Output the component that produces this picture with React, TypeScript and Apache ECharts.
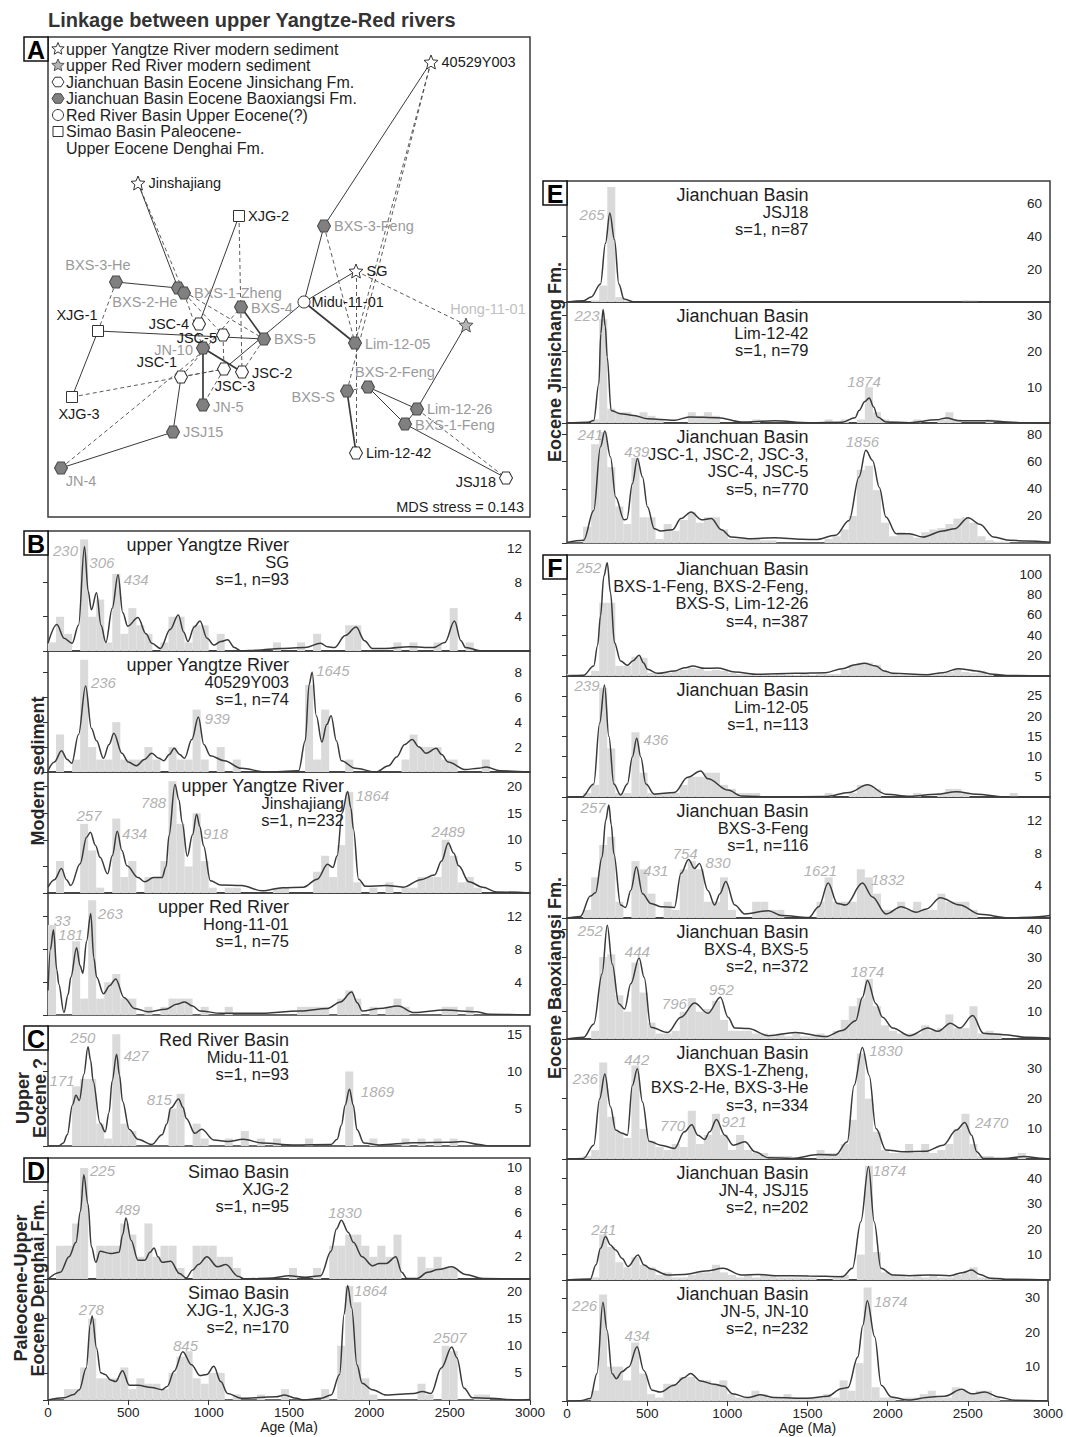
import React, { useEffect, useRef } from 'react';
import * as echarts from 'echarts';

const FONT = '"Liberation Sans", Arial, Helvetica, sans-serif';
const AGE_MIN = 0;
const AGE_MAX = 3000;
const AGE_TICK_STEP = 500;
const BIN_WIDTH = 50;

// ---------------- Histogram counts (50 Ma bins, 0-3000 Ma) ----------------
const B1_HIST = [1,4,2,0,13,4,6,1,9,2, 5,3,2,0,1,4,4,1,3,3, 0,2,0,0,0,0,0,0,1,0, 0,1,0,2,0,0,0,3,3,0, 0,0,0,1,0,1,0,0,1,0, 5,0,1,0,0,0,0,0,0,0];
const B2_HIST = [0,3,0,1,9,2,1,1,4,1, 1,1,2,1,0,2,1,1,5,1, 0,2,0,1,0,0,0,0,0,0, 0,0,7,1,5,0,0,1,0,0, 0,0,0,0,1,3,2,2,2,1, 1,0,0,0,1,0,0,0,0,0];
const B3_HIST = [0,6,0,0,13,8,1,0,14,3, 6,0,3,3,6,21,13,5,15,6, 1,0,1,1,0,0,0,0,1,1, 0,0,0,4,7,3,9,19,2,0, 1,0,2,0,1,1,3,3,3,10, 7,2,3,1,0,0,0,0,0,0];
const B4_HIST = [11,0,0,9,2,14,2,4,5,2, 2,0,1,0,1,2,2,2,0,1, 0,0,1,0,0,0,0,0,0,0, 0,1,1,1,1,0,2,3,2,0, 1,0,1,2,1,0,0,0,0,1, 1,0,1,0,0,0,0,0,0,0];
const C_HIST = [0,0,0,8,9,9,3,1,15,3, 2,0,0,0,0,5,7,0,3,1, 0,0,1,0,2,0,1,0,1,0, 0,0,1,0,0,0,0,10,0,0, 1,0,0,0,1,0,1,0,1,0, 1,0,0,0,0,0,0,0,0,0];
const D1_HIST = [0,3,3,5,10,0,3,3,3,5, 4,2,5,2,3,3,1,0,3,3, 3,2,2,1,0,0,0,0,0,0, 1,0,0,1,0,3,3,4,4,3, 2,3,2,4,0,0,2,1,2,1, 1,0,0,0,0,0,0,0,0,0];
const D2_HIST = [0,0,2,2,6,15,4,4,4,6, 2,4,3,3,2,5,8,9,4,3, 5,5,0,1,0,0,1,0,0,2, 0,0,0,0,2,0,10,21,18,4, 1,0,0,0,0,0,3,1,0,10, 9,0,0,1,1,0,0,0,0,0];
const E1_HIST = [0,0,0,1,10,70,3,1,0,0, 0,0,0,0,0,0,0,0,0,0, 0,0,0,0,0,0,0,0,1,0, 0,0,0,0,0,0,0,0,0,0, 0,0,0,0,0,0,0,0,0,1, 1,0,0,0,0,0,0,0,0,0];
const E2_HIST = [0,0,0,1,29,4,3,3,2,3, 2,1,0,0,0,3,2,3,2,0, 0,0,0,1,0,0,0,0,0,0, 0,0,1,0,1,0,1,10,3,1, 0,0,0,1,0,0,1,3,1,0, 0,0,1,0,0,0,0,0,0,0];
const E3_HIST = [0,0,12,73,82,56,27,14,63,19, 19,3,14,9,17,23,15,19,19,10, 3,3,3,3,2,2,0,0,0,0, 0,0,3,5,10,20,54,57,39,15, 5,8,7,4,8,10,11,14,18,19, 15,5,2,1,1,0,0,0,0,0];
const F1_HIST = [2,1,1,5,72,72,10,10,19,18, 3,3,3,5,6,8,7,5,6,5, 3,2,2,1,2,1,2,1,1,2, 1,2,2,2,6,11,13,13,11,5, 2,1,1,1,1,1,2,4,7,4, 3,5,1,0,0,0,0,0,0,0];
const F2_HIST = [0,0,1,3,27,12,1,1,16,6, 1,1,1,1,3,5,5,6,6,3, 2,1,1,1,0,0,0,0,0,0, 0,0,1,0,0,1,3,3,2,0, 0,0,0,1,0,0,1,2,2,1, 0,0,0,0,0,1,0,0,0,0];
const F3_HIST = [0,0,1,5,9,10,2,0,7,6, 3,0,2,1,6,7,6,2,2,5, 1,0,0,2,2,1,1,0,0,0, 0,2,5,2,2,2,6,5,3,1, 1,2,1,2,1,1,3,2,2,2, 1,0,0,0,0,0,0,0,0,0];
const F4_HIST = [0,0,0,3,30,31,16,10,28,17, 6,2,2,3,10,15,10,11,14,7, 3,3,3,2,2,1,2,1,2,1, 1,2,1,3,7,12,15,22,12,5, 3,2,2,2,5,3,4,9,4,4, 12,2,3,2,0,0,0,0,0,0];
const F5_HIST = [0,0,1,3,32,14,9,7,31,10, 6,4,3,5,4,16,5,8,15,8, 3,8,3,2,2,1,1,1,0,0, 0,3,2,2,5,13,35,20,9,3, 2,2,5,2,5,2,3,5,10,15, 5,1,1,0,0,0,2,0,0,0];
const F6_HIST = [0,0,0,1,18,13,7,5,9,6, 5,2,3,1,1,2,3,3,6,3, 2,1,2,1,2,2,1,1,1,1, 1,0,0,1,2,0,10,45,11,3, 2,2,1,2,1,2,1,1,2,3, 5,1,1,1,0,0,0,0,0,0];
const F7_HIST = [0,0,0,3,31,10,10,6,17,8, 2,1,5,5,7,7,6,6,5,6, 2,1,1,3,2,1,1,2,1,1, 1,1,2,1,6,3,11,33,4,1, 1,0,1,1,2,3,1,1,4,3, 2,3,3,1,0,0,0,0,0,0];

// ---------------- KDE curves [age (Ma), density] ----------------
const B1_KDE = [[0,0.9],[55,3.1],[100,1.5],[150,0.9],[190,3],[227,12.2],[250,7],[270,4.8],[302,6.8],[330,3],[360,1.0],[400,5],[436,8.9],[465,4.5],[496,2.9],[560,3.9],[610,2],[646,0.9],[700,0.3],[760,2.5],[811,4.2],[845,2.2],[871,1.1],[910,2.8],[946,3.5],[990,1.5],[1032,0.7],[1075,1.1],[1118,1.3],[1160,0.4],[1204,0],[1300,0.1],[1450,0.3],[1600,0.4],[1697,0.9],[1740,0.5],[1783,0.4],[1850,1.8],[1918,2.8],[1970,1.2],[2019,0.3],[2100,0.3],[2250,0.5],[2400,0.4],[2470,1.0],[2530,3.5],[2570,1.2],[2599,0.4],[2700,0],[3000,0]];
const B2_KDE = [[0,0.1],[40,0.8],[84,1.7],[120,1.0],[148,0.7],[190,3],[234,6.9],[270,3.5],[302,2.5],[345,1.1],[380,2.2],[410,3.1],[460,1.5],[500,0.8],[549,0.5],[600,1.0],[646,1.5],[690,1.1],[721,0.9],[755,1.4],[785,1.9],[820,1.4],[850,1.1],[895,2.6],[936,4.4],[970,2.2],[1011,1.3],[1097,0.9],[1204,0.3],[1354,0],[1560,0.1],[1601,2.5],[1625,7],[1644,8.0],[1670,4.5],[1704,2.4],[1735,3.8],[1762,4.5],[1795,2.5],[1826,0.9],[1912,0.3],[2041,0],[2120,0.5],[2170,1.2],[2220,2.2],[2266,2.6],[2310,2.0],[2352,1.5],[2416,1.9],[2450,1.4],[2491,0.8],[2599,0.2],[2680,0.3],[2727,0.4],[2813,0.1],[3000,0]];
const B3_KDE = [[0,1.1],[40,2.5],[84,4.6],[115,2.5],[142,1.4],[200,5.5],[240,10.5],[264,11.4],[295,9],[324,6.7],[371,3.6],[400,7],[431,11.6],[460,8],[491,5.1],[560,2.9],[603,2.1],[657,2.9],[710,2.9],[735,5],[753,10.75],[790,20.4],[815,17.5],[835,13.25],[867,6.9],[900,11],[925,14.8],[945,12.5],[968,8.9],[1011,2.3],[1075,1.5],[1204,1.4],[1333,0.4],[1461,1.0],[1590,1.1],[1676,2.6],[1740,5.4],[1773,4.8],[1800,7],[1830,15],[1865,19.1],[1885,16],[1901,12],[1933,2.6],[1976,1.25],[2105,1.4],[2212,1.1],[2320,2.5],[2406,3.4],[2450,6],[2491,9.4],[2525,7.5],[2556,5.1],[2620,2.1],[2706,1.1],[2792,0.2],[3000,0]];
const B4_KDE = [[0,3.0],[15,8],[34,10.4],[55,5.5],[67,3.8],[99,0.3],[125,2.5],[142,4.6],[178,8.2],[200,6],[217,5.1],[240,9],[266,12.4],[285,7],[303,4.6],[345,2.6],[385,3.6],[421,4.4],[474,2.1],[539,0.8],[624,0.4],[732,0.7],[800,1.3],[850,1.6],[900,1.1],[946,0.5],[1075,0.2],[1300,0.2],[1569,0.5],[1740,0.8],[1820,1.6],[1890,2.8],[1925,1.5],[1955,0.5],[2062,0.8],[2180,1.1],[2277,0.3],[2470,0.6],[2663,0.4],[2749,0.1],[3000,0]];
const C_KDE = [[0,0],[67,0],[95,0.4],[120,1.5],[152,5.5],[174,6.8],[195,6.1],[223,9.6],[249,13.3],[265,11.5],[281,8.7],[324,3.1],[356,1.9],[380,4.5],[399,8.7],[427,12.3],[445,9.5],[464,6],[506,2.2],[560,0.9],[646,0.2],[710,1.5],[740,3],[764,5.1],[813,6.3],[840,5.2],[861,3.7],[914,1.7],[957,2.25],[1032,0.8],[1118,0.6],[1215,0.9],[1333,0.4],[1526,0.15],[1762,0.2],[1800,0.9],[1826,2.8],[1850,5.5],[1876,7.6],[1900,5.5],[1923,2.2],[1966,0.4],[2062,0.15],[2277,0.45],[2491,0.5],[2577,0.6],[2684,0.2],[2740,0],[3000,0]];
const D1_KDE = [[0,0],[77,0.6],[131,2.0],[174,3.3],[202,6.1],[223,9.4],[249,6.75],[270,2.9],[298,1.5],[324,2.5],[388,2.3],[442,2.4],[465,4],[485,5.5],[517,3.5],[560,1.7],[603,1.7],[635,2.4],[660,2.8],[685,2],[710,1.5],[764,1.6],[818,0.5],[861,0.1],[900,0.8],[936,1.3],[989,2.0],[1054,1.1],[1107,1.3],[1182,0.25],[1225,0],[1400,0.1],[1500,0.3],[1600,0.15],[1697,0.3],[1762,2.5],[1795,4.5],[1826,5.3],[1869,4.2],[1901,3.3],[1955,2.0],[2019,1.2],[2062,1.4],[2105,1.4],[2165,2.0],[2202,0.6],[2234,0.05],[2298,0.05],[2363,0.6],[2427,0.85],[2513,1.1],[2599,0.4],[2706,0.05],[3000,0]];
const D2_KDE = [[0,0],[100,0.4],[160,1.0],[195,1.9],[238,5.9],[264,14],[275,15.5],[302,9.6],[328,5],[356,4.7],[388,3.7],[421,3.4],[464,5.4],[506,2.7],[560,2.7],[646,2.3],[710,1.9],[742,2.5],[785,5.3],[839,8.9],[893,6.5],[946,4.5],[989,4.7],[1032,6.2],[1075,3.4],[1118,1.2],[1204,0.3],[1418,0.6],[1472,0.9],[1547,0.3],[1590,0],[1697,0.3],[1762,0.9],[1815,4.7],[1843,15.8],[1865,21.1],[1890,17],[1923,6.5],[1955,3.1],[2019,1.9],[2105,0.9],[2277,1.2],[2330,1.55],[2384,1.2],[2448,5.9],[2513,9.75],[2545,7.8],[2588,2.2],[2642,0.4],[2749,0.3],[2921,0],[3000,0.1]];
const E1_KDE = [[0,0],[103,0.8],[150,3],[208,11],[239,35.7],[266,54.2],[295,37.8],[322,11],[354,1.8],[416,0],[3000,0]];
const E2_KDE = [[0,0],[130,0.2],[166,0.7],[198,11],[210,25],[224,31.7],[238,27],[250,18.4],[274,3.5],[333,2.6],[416,2.1],[500,1.2],[667,0.75],[760,1.7],[938,1.5],[1084,0.3],[1291,0.6],[1500,0.1],[1710,0.2],[1790,1.5],[1814,3.5],[1850,6],[1877,7.0],[1905,4.5],[1929,1.7],[1981,0.3],[2127,0.1],[2295,0.9],[2356,1.4],[2440,0.6],[2607,0.6],[2816,0.1],[3000,0]];
const E3_KDE = [[0,0.3],[103,2],[166,24],[208,71],[235,82.7],[270,63.5],[302,34],[354,17.2],[372,17.5],[406,43.8],[437,62.3],[469,48.7],[500,26.6],[542,10.6],[583,8.9],[656,9.8],[708,18],[771,22.9],[834,17.2],[896,18],[959,9.8],[1021,4.4],[1126,3.2],[1293,3.9],[1459,2.7],[1543,2.5],[1668,5.7],[1752,16.7],[1814,48.7],[1856,68.4],[1898,61],[1940,41],[1981,19.2],[2044,6.9],[2127,6.9],[2210,4.4],[2335,8.9],[2408,10.6],[2492,18.7],[2565,13.8],[2649,4.4],[2753,2],[2857,1.5],[3000,0.5]];
const F1_KDE = [[0,0],[103,0.7],[166,9.8],[190,30],[208,59],[229,98],[250,111.5],[270,82],[295,32.8],[333,14.8],[375,10.5],[410,15],[448,20.3],[475,13],[500,6.6],[562,2.6],[667,4.9],[730,8],[781,9.8],[854,7.5],[938,7.9],[1042,3.9],[1188,1.6],[1418,2.6],[1606,3.3],[1710,7.2],[1790,11],[1846,12.5],[1918,9.8],[1970,5],[2023,2.6],[2232,1.3],[2335,3.3],[2430,7.2],[2545,4.9],[2649,1.6],[2753,0.5],[3000,0]];
const F2_KDE = [[0,0],[93,0],[166,3.2],[203,18.3],[233,27.7],[260,15],[291,3.2],[333,0.5],[375,3.2],[406,9.9],[433,14.5],[458,9.9],[490,3.2],[542,0.7],[667,1.1],[750,4.9],[830,6.4],[875,4.5],[1000,1.7],[1084,0.25],[1293,0],[1606,0.1],[1752,1.1],[1866,3.0],[1981,0.7],[2127,0.2],[2294,0.7],[2419,1.3],[2545,0.7],[2712,0],[3000,0]];
const F3_KDE = [[0,0],[83,0.2],[145,2.7],[177,3.1],[218,7.5],[240,12],[260,13.9],[275,11.5],[291,7.9],[333,1.6],[364,1.3],[396,3.4],[431,6.3],[469,3.0],[521,1.8],[583,1.4],[667,1.3],[708,5.5],[755,7.2],[792,6.1],[823,6.7],[875,3.4],[917,1.6],[950,3],[986,4.5],[1042,1.6],[1104,0.5],[1250,0.9],[1334,0.3],[1501,0.05],[1564,1.4],[1622,4.3],[1679,1.8],[1731,1.6],[1835,4.3],[1897,2.6],[1981,0.5],[2075,1.4],[2169,0.7],[2232,1.1],[2319,2.5],[2440,1.6],[2565,0.45],[2753,0],[2878,0.1],[3000,0.3]];
const F4_KDE = [[0,0],[103,0.6],[166,5.5],[218,23.9],[250,41.6],[281,27.5],[322,12.9],[358,11],[396,20.2],[448,29.7],[479,22.6],[521,4.3],[625,2.4],[708,8],[792,13.2],[875,9.4],[953,15.3],[1000,8],[1042,4],[1126,3.8],[1251,1.2],[1418,2.4],[1606,0.9],[1710,3.1],[1793,6.7],[1835,15.3],[1866,21.4],[1919,12.9],[1960,8],[2023,4],[2127,1.2],[2242,4],[2305,2.8],[2382,5.75],[2440,4],[2520,8.6],[2586,2.1],[2649,1.8],[2712,1.6],[2857,0.6],[3000,0.4]];
const F5_KDE = [[0,0],[103,0.2],[166,4.6],[203,20],[235,28.2],[270,17.3],[302,9.6],[343,8.5],[375,7.9],[406,24.4],[437,29.9],[469,18.9],[510,5.9],[583,4.6],[667,3.5],[729,9],[775,11.4],[813,7.9],[855,6.5],[886,9],[928,13.1],[980,7.9],[1032,4.6],[1105,5.7],[1168,2.4],[1251,0.4],[1397,0.2],[1564,1.5],[1668,1.3],[1741,5.7],[1783,24.4],[1835,37],[1877,27.7],[1919,10.1],[1981,3],[2085,2.4],[2231,2.6],[2336,4.6],[2419,9.6],[2471,12.1],[2513,7.9],[2545,2.4],[2586,0.2],[2712,0.2],[2837,0.8],[2963,0.2],[3000,0]];
const F6_KDE = [[0,0],[145,0.4],[180,6],[208,12.5],[239,17.1],[270,13.8],[302,11.8],[343,8.5],[379,5.3],[441,9.9],[479,5.9],[521,4.3],[625,2],[729,2.2],[860,3.5],[969,4.6],[1084,2],[1188,2.2],[1293,1.7],[1501,1.6],[1710,1.3],[1773,4.6],[1825,23],[1873,44.7],[1908,23],[1950,4.6],[2023,2],[2127,1.7],[2252,2],[2378,1.7],[2461,3.0],[2513,3.9],[2565,2.2],[2628,0.7],[2753,0.3],[3000,0]];
const F7_KDE = [[0,0],[83,0.1],[145,0.7],[187,8],[224,28.7],[250,20.6],[281,8],[308,6.5],[343,8.5],[385,9.9],[437,15.8],[479,8.9],[531,3.1],[583,2.6],[667,4.6],[729,6.8],[771,8],[834,5.8],[917,4.9],[980,4.3],[1032,2.1],[1126,1],[1209,1.8],[1293,1],[1501,0.8],[1627,1.4],[1710,3.6],[1752,3.9],[1814,12.8],[1845,22],[1873,29.2],[1919,18.7],[1960,4.6],[2023,1.2],[2127,0.3],[2273,1.2],[2357,1.4],[2461,3.4],[2524,2.1],[2607,2.6],[2690,1.2],[2795,0.2],[2962,0.1],[3000,0]];

// ---------------- Peak age labels (text) ----------------
const B1_PEAKS = ['230','306','434'];
const B2_PEAKS = ['236','939','1645'];
const B3_PEAKS = ['257','434','788','918','1864','2489'];
const B4_PEAKS = ['33','181','263'];
const C_PEAKS = ['171','250','427','815','1869'];
const D1_PEAKS = ['225','489','1830'];
const D2_PEAKS = ['278','845','1864','2507'];
const E1_PEAKS = ['265'];
const E2_PEAKS = ['223','1874'];
const E3_PEAKS = ['241','439','1856'];
const F1_PEAKS = ['252'];
const F2_PEAKS = ['239','436'];
const F3_PEAKS = ['257','431','754','830','1621','1832'];
const F4_PEAKS = ['252','444','796','952','1874'];
const F5_PEAKS = ['236','442','770','921','1830','2470'];
const F6_PEAKS = ['241','1874'];
const F7_PEAKS = ['226','434','1874'];

// where each peak label sits, in [age, density] units (layout)
const PEAK_LABEL_AT = {
  B1: [[109,11.7],[335,10.3],[549,8.3]],
  B2: [[345,7.2],[1054,4.3],[1773,8.1]],
  B3: [[255,14.5],[539,11.25],[657,17.1],[1043,11.1],[2019,18.4],[2491,11.5]],
  B4: [[88,11.5],[142,9.8],[388,12.4]],
  C: [[88,8.8],[217,14.5],[549,12.2],[693,6.2],[2051,7.25]],
  D1: [[339,9.8],[496,6.3],[1848,6.0]],
  D2: [[270,16.6],[856,10.1],[2009,20.2],[2502,11.5]],
  E1: [[156,53.2]],
  E2: [[124,30.1],[1845,11.5]],
  E3: [[145,80.2],[433,67.9],[1835,74.6]],
  F1: [[135,106.6]],
  F2: [[124,27.6],[552,14.3]],
  F3: [[162,13.6],[552,5.9],[734,8.0],[938,6.8],[1574,5.8],[1992,4.7]],
  F4: [[145,39.8],[437,32.1],[667,13.1],[959,18.1],[1866,24.7]],
  F5: [[114,26.6],[433,33.0],[656,11.0],[1038,12.5],[1981,35.9],[2638,12.1]],
  F6: [[229,20.1],[2002,43.1]],
  F7: [[110,27.7],[437,19],[2019,28.9]],
};

// ---------------- Sample titles ----------------
const TITLES = {
  B1: ['upper Yangtze River','SG','s=1, n=93'],
  B2: ['upper Yangtze River','40529Y003','s=1, n=74'],
  B3: ['upper Yangtze River','Jinshajiang','s=1, n=232'],
  B4: ['upper Red River','Hong-11-01','s=1, n=75'],
  C: ['Red River Basin','Midu-11-01','s=1, n=93'],
  D1: ['Simao Basin','XJG-2','s=1, n=95'],
  D2: ['Simao Basin','XJG-1, XJG-3','s=2, n=170'],
  E1: ['Jianchuan Basin','JSJ18','s=1, n=87'],
  E2: ['Jianchuan Basin','Lim-12-42','s=1, n=79'],
  E3: ['Jianchuan Basin','JSC-1, JSC-2, JSC-3,','JSC-4, JSC-5','s=5, n=770'],
  F1: ['Jianchuan Basin','BXS-1-Feng, BXS-2-Feng,','BXS-S, Lim-12-26','s=4, n=387'],
  F2: ['Jianchuan Basin','Lim-12-05','s=1, n=113'],
  F3: ['Jianchuan Basin','BXS-3-Feng','s=1, n=116'],
  F4: ['Jianchuan Basin','BXS-4, BXS-5','s=2, n=372'],
  F5: ['Jianchuan Basin','BXS-1-Zheng,','BXS-2-He, BXS-3-He','s=3, n=334'],
  F6: ['Jianchuan Basin','JN-4, JSJ15','s=2, n=202'],
  F7: ['Jianchuan Basin','JN-5, JN-10','s=2, n=232'],
};

// y-axis extents (max, tick interval)
const Y_SCALE = {
  B1: [14, 4], B2: [9.7, 2], B3: [22.75, 5], B4: [14.9, 4], C: [16.1, 5],
  D1: [10.9, 2], D2: [22.3, 5], E1: [73.6, 20], E2: [33.8, 10], E3: [88.6, 20],
  F1: [119, 20], F2: [29.9, 5], F3: [14.9, 4], F4: [44.3, 10], F5: [39.8, 10],
  F6: [47.7, 10], F7: [35.2, 10],
};

// ---------------- MDS map: sample, dim-1, dim-2, group ----------------
const MDS_SAMPLES = [
  ['40529Y003', 383, 455, 'yz'], ['Jinshajiang', 90, 334, 'yz'], ['SG', 308, 246, 'yz'],
  ['Hong-11-01', 418, 192, 'red'],
  ['XJG-2', 191, 301, 'sm'], ['XJG-1', 50, 186, 'sm'], ['XJG-3', 24, 120, 'sm'],
  ['Midu-11-01', 256, 215, 'rb'],
  ['JSC-4', 151, 193, 'js'], ['JSC-5', 175, 182, 'js'], ['JSC-1', 133, 140, 'js'],
  ['JSC-3', 176, 148, 'js'], ['JSC-2', 194, 145, 'js'], ['Lim-12-42', 308, 64, 'js'], ['JSJ18', 458, 39, 'js'],
  ['BXS-3-Feng', 276, 291, 'bx'], ['BXS-3-He', 68, 235, 'bx'], ['BXS-2-He', 130, 229, 'bx'],
  ['BXS-1-Zheng', 136, 224, 'bx'], ['BXS-4', 193, 210, 'bx'], ['BXS-5', 216, 178, 'bx'],
  ['JN-10', 155, 169, 'bx'], ['JN-5', 155, 112, 'bx'], ['JSJ15', 125, 85, 'bx'], ['JN-4', 13, 49, 'bx'],
  ['Lim-12-05', 307, 174, 'bx'], ['BXS-2-Feng', 320, 130, 'bx'], ['BXS-S', 299, 126, 'bx'],
  ['Lim-12-26', 369, 108, 'bx'], ['BXS-1-Feng', 357, 93, 'bx'],
];
const MDS_NEAREST = [
  ['40529Y003','BXS-3-Feng'], ['BXS-3-Feng','Midu-11-01'], ['Midu-11-01','SG'], ['Midu-11-01','Lim-12-05', 1],
  ['Midu-11-01','JSC-3'], ['XJG-2','JSC-4'], ['XJG-1','XJG-3'], ['XJG-1','BXS-5'], ['BXS-3-He','BXS-2-He'],
  ['Jinshajiang','BXS-2-He'], ['BXS-2-He','BXS-1-Zheng'], ['BXS-4','BXS-5', 1], ['JN-10','JN-5', 1],
  ['JN-10','JSC-2', 1], ['JSC-1','JSJ15'], ['JSJ15','JN-4'], ['Hong-11-01','Lim-12-26'], ['BXS-2-Feng','Lim-12-26'],
  ['BXS-2-Feng','BXS-1-Feng'], ['BXS-1-Feng','JSJ18'], ['BXS-S','Lim-12-42', 1], ['Lim-12-26','BXS-1-Feng'],
];
const MDS_SECOND = [
  ['40529Y003','Lim-12-05'], ['40529Y003','BXS-S'], ['SG','Hong-11-01'], ['SG','Lim-12-42'], ['BXS-3-Feng','Lim-12-05'],
  ['BXS-S','BXS-2-Feng'], ['Lim-12-26','JSJ18'], ['Jinshajiang','BXS-1-Zheng'], ['XJG-2','JSC-2'], ['BXS-3-He','XJG-1'],
  ['BXS-1-Zheng','JSC-5'], ['BXS-2-He','BXS-5'], ['XJG-3','JSC-3'], ['JN-4','JSC-5'], ['JSC-1','BXS-4'],
  ['JSC-5','JSC-3'], ['JSC-3','JN-5'], ['JSC-2','BXS-5'], ['JSC-1','JSC-3'], ['BXS-1-Zheng','JN-10'],
];
const MDS_STRESS = 0.143;
const MDS_LEGEND = [
  ['yz', 'upper Yangtze River modern sediment'],
  ['red', 'upper Red River modern sediment'],
  ['js', 'Jianchuan Basin Eocene Jinsichang Fm.'],
  ['bx', 'Jianchuan Basin Eocene Baoxiangsi Fm.'],
  ['rb', 'Red River Basin Upper Eocene(?)'],
  ['sm', 'Simao Basin Paleocene-'],
  [null, 'Upper Eocene Denghai Fm.'],
];

// ---------------- Layout (pixels) ----------------
const COLS = { L: { x: 48, w: 482 }, R: { x: 567, w: 483 } };
const SUBPLOTS = [
  { key: 'B1', col: 'L', top: 531, bottom: 651, hist: B1_HIST, kde: B1_KDE, peaks: B1_PEAKS },
  { key: 'B2', col: 'L', top: 651, bottom: 772, hist: B2_HIST, kde: B2_KDE, peaks: B2_PEAKS },
  { key: 'B3', col: 'L', top: 772, bottom: 893, hist: B3_HIST, kde: B3_KDE, peaks: B3_PEAKS, titleAt: 1842 },
  { key: 'B4', col: 'L', top: 893, bottom: 1015, hist: B4_HIST, kde: B4_KDE, peaks: B4_PEAKS },
  { key: 'C', col: 'L', top: 1026, bottom: 1146, hist: C_HIST, kde: C_KDE, peaks: C_PEAKS },
  { key: 'D1', col: 'L', top: 1158, bottom: 1279, hist: D1_HIST, kde: D1_KDE, peaks: D1_PEAKS },
  { key: 'D2', col: 'L', top: 1279, bottom: 1400, hist: D2_HIST, kde: D2_KDE, peaks: D2_PEAKS, xaxis: true },
  { key: 'E1', col: 'R', top: 181, bottom: 302, hist: E1_HIST, kde: E1_KDE, peaks: E1_PEAKS },
  { key: 'E2', col: 'R', top: 302, bottom: 423, hist: E2_HIST, kde: E2_KDE, peaks: E2_PEAKS },
  { key: 'E3', col: 'R', top: 423, bottom: 543, hist: E3_HIST, kde: E3_KDE, peaks: E3_PEAKS },
  { key: 'F1', col: 'R', top: 555, bottom: 676, hist: F1_HIST, kde: F1_KDE, peaks: F1_PEAKS },
  { key: 'F2', col: 'R', top: 676, bottom: 797, hist: F2_HIST, kde: F2_KDE, peaks: F2_PEAKS },
  { key: 'F3', col: 'R', top: 797, bottom: 918, hist: F3_HIST, kde: F3_KDE, peaks: F3_PEAKS },
  { key: 'F4', col: 'R', top: 918, bottom: 1039, hist: F4_HIST, kde: F4_KDE, peaks: F4_PEAKS },
  { key: 'F5', col: 'R', top: 1039, bottom: 1159, hist: F5_HIST, kde: F5_KDE, peaks: F5_PEAKS },
  { key: 'F6', col: 'R', top: 1159, bottom: 1280, hist: F6_HIST, kde: F6_KDE, peaks: F6_PEAKS },
  { key: 'F7', col: 'R', top: 1280, bottom: 1401, hist: F7_HIST, kde: F7_KDE, peaks: F7_PEAKS, xaxis: true },
];
const MDS_BOX = { left: 48, top: 37, width: 482, height: 480 };
const PANEL_LETTERS = [['A', 24, 37], ['B', 24, 531], ['C', 24, 1026], ['D', 24, 1158], ['E', 543, 181], ['F', 543, 555]];
const GROUP_LABELS = [
  ['Modern sediment', 38, 771],
  ['Upper\nEocene ?', 31, 1098],
  ['Paleocene-Upper\nEocene Denghai Fm.', 29, 1288],
  ['Eocene Jinsichang Fm.', 555, 362],
  ['Eocene Baoxiangsi Fm.', 555, 978],
];
const MDS_LABEL_PLACE = {
  '40529Y003': ['right', 0, 0], 'Jinshajiang': ['right', 0, 0], 'SG': ['right', 0, 0],
  'Hong-11-01': ['top', 22, 2], 'XJG-2': ['right', 0, 0], 'XJG-1': ['top', -21, 0], 'XJG-3': ['bottom', 7, 0],
  'Midu-11-01': ['right', -2, 0], 'JSC-4': ['left', 0, 0], 'JSC-5': ['left', 4, 3], 'JSC-1': ['top', -24, 2],
  'JSC-3': ['bottom', 11, 0], 'JSC-2': ['right', 0, 1], 'Lim-12-42': ['right', 0, 0], 'JSJ18': ['left', 0, 4],
  'BXS-3-Feng': ['right', 0, 0], 'BXS-3-He': ['top', -18, 0], 'BXS-2-He': ['bottom', -33, -3],
  'BXS-1-Zheng': ['right', 0, 0], 'BXS-4': ['right', 0, 1], 'BXS-5': ['right', 0, 0], 'JN-10': ['left', 0, 2],
  'JN-5': ['right', 0, 2], 'JSJ15': ['right', 0, 0], 'JN-4': ['bottom', 20, -4], 'Lim-12-05': ['right', 0, 1],
  'BXS-2-Feng': ['top', 27, 2], 'BXS-S': ['left', -2, 6], 'Lim-12-26': ['right', 0, 0], 'BXS-1-Feng': ['right', 0, 1],
};

// ---------------- Symbol geometry ----------------
function starPts(cx, cy, r) {
  const pts = [];
  for (let k = 0; k < 10; k++) {
    const a = -Math.PI / 2 + (k * Math.PI) / 5;
    const rr = k % 2 === 0 ? r : r * 0.45;
    pts.push([cx + rr * Math.cos(a), cy + rr * Math.sin(a)]);
  }
  return pts;
}
function hexPts(cx, cy, r) {
  const pts = [];
  for (let k = 0; k < 6; k++) {
    const a = (k * Math.PI) / 3;
    pts.push([cx + r * Math.cos(a), cy + r * 0.92 * Math.sin(a)]);
  }
  return pts;
}
const toPath = (pts) => 'path://M' + pts.map((p) => p[0].toFixed(2) + ',' + p[1].toFixed(2)).join('L') + 'Z';
const STAR_PATH = toPath(starPts(0, 0, 10));
const HEX_PATH = toPath(hexPts(0, 0, 10));

const GROUP_STYLE = {
  yz: { symbol: STAR_PATH, size: 14, fill: '#ffffff', stroke: '#333', label: '#1a1a1a' },
  red: { symbol: STAR_PATH, size: 14, fill: '#b5b5b5', stroke: '#555', label: '#c0c0c0' },
  js: { symbol: HEX_PATH, size: [13, 12], fill: '#ffffff', stroke: '#333', label: '#1a1a1a' },
  bx: { symbol: HEX_PATH, size: [13, 12], fill: '#808080', stroke: '#4a4a4a', label: '#9a9a9a' },
  rb: { symbol: 'circle', size: 12, fill: '#ffffff', stroke: '#333', label: '#1a1a1a' },
  sm: { symbol: 'rect', size: 11, fill: '#ffffff', stroke: '#333', label: '#1a1a1a' },
};

function legendShape(group, cx, cy) {
  const st = GROUP_STYLE[group];
  const style = { fill: st.fill, stroke: st.stroke, lineWidth: 1 };
  if (group === 'yz' || group === 'red') return { type: 'polygon', shape: { points: starPts(cx, cy, 6.5) }, style };
  if (group === 'js' || group === 'bx') return { type: 'polygon', shape: { points: hexPts(cx, cy, 6) }, style };
  if (group === 'rb') return { type: 'circle', shape: { cx, cy, r: 5.5 }, style };
  return { type: 'rect', shape: { x: cx - 5, y: cy - 5, width: 10, height: 10 }, style };
}

function buildOption() {
  const grid = [];
  const xAxis = [];
  const yAxis = [];
  const series = [];
  const graphic = [];

  SUBPLOTS.forEach((sp, i) => {
    const col = COLS[sp.col];
    const [ymax, yint] = Y_SCALE[sp.key];
    grid.push({
      left: col.x, top: sp.top, width: col.w, height: sp.bottom - sp.top,
      show: true, borderColor: '#3a3a3a', borderWidth: 1.5, backgroundColor: 'rgba(0,0,0,0)', containLabel: false,
    });
    xAxis.push({
      gridIndex: i, type: 'value', min: AGE_MIN, max: AGE_MAX, interval: AGE_TICK_STEP,
      show: !!sp.xaxis,
      axisLine: { show: false },
      axisTick: { show: true, inside: false, length: 5, lineStyle: { color: '#333', width: 1 } },
      axisLabel: { show: true, fontSize: 13.5, color: '#222', fontFamily: FONT, margin: 5, formatter: (v) => String(v) },
      splitLine: { show: false },
      name: sp.xaxis ? 'Age (Ma)' : '',
      nameLocation: 'middle', nameGap: 19,
      nameTextStyle: { fontSize: 14, color: '#222', fontFamily: FONT },
    });
    yAxis.push({
      gridIndex: i, type: 'value', min: 0, max: ymax, interval: yint, position: 'right',
      axisLine: { show: false },
      axisTick: { show: true, inside: true, length: 5, lineStyle: { color: '#333', width: 1 } },
      axisLabel: {
        show: true, inside: true, margin: 8, fontSize: 13.5, color: '#222', fontFamily: FONT,
        formatter: (v) => {
          const r = v / yint;
          if (v <= 0 || Math.abs(r - Math.round(r)) > 1e-6) return '';
          return String(v);
        },
      },
      splitLine: { show: false },
    });
    series.push({
      type: 'custom', xAxisIndex: i, yAxisIndex: i, silent: true, z: 1, clip: true,
      data: sp.hist.map((v, k) => [k * BIN_WIDTH, v]).filter((d) => d[1] > 0),
      renderItem: (params, api) => {
        const x0 = api.value(0);
        const v = api.value(1);
        const p0 = api.coord([x0, v]);
        const p1 = api.coord([x0 + BIN_WIDTH, 0]);
        return {
          type: 'rect',
          shape: { x: p0[0], y: p0[1], width: p1[0] - p0[0], height: p1[1] - p0[1] },
          style: { fill: '#dadada' },
        };
      },
    });
    series.push({
      type: 'line', xAxisIndex: i, yAxisIndex: i, data: sp.kde, smooth: 0.35, smoothMonotone: 'x',
      symbol: 'none', silent: true, z: 3, clip: true,
      lineStyle: { color: '#3a3a3a', width: 1.5 },
    });
    const at = PEAK_LABEL_AT[sp.key];
    series.push({
      type: 'scatter', xAxisIndex: i, yAxisIndex: i, silent: true, z: 4, symbolSize: 1,
      itemStyle: { color: 'rgba(0,0,0,0)' },
      data: sp.peaks.map((t, j) => ({ name: t, value: at[j] })),
      label: {
        show: true, position: 'inside', formatter: '{b}', fontSize: 15, fontStyle: 'italic',
        color: '#9d9d9d', fontFamily: FONT,
      },
    });
    // sample title block, right-aligned (default at 1500 Ma)
    const tx = col.x + ((sp.titleAt || 1500) / AGE_MAX) * col.w;
    TITLES[sp.key].forEach((line, j) => {
      graphic.push({
        type: 'text', x: tx, y: sp.top + 14 + 17.2 * j, silent: true, z: 10,
        style: {
          text: line, textAlign: 'right', textVerticalAlign: 'middle',
          font: (j === 0 ? '18px ' : '16.5px ') + FONT, fill: '#1e1e1e',
        },
      });
    });
  });

  // ---------- MDS panel ----------
  const gi = SUBPLOTS.length;
  grid.push({ ...MDS_BOX, show: true, borderColor: '#3a3a3a', borderWidth: 1.5, backgroundColor: 'rgba(0,0,0,0)' });
  xAxis.push({ gridIndex: gi, type: 'value', min: 0, max: MDS_BOX.width, show: false });
  yAxis.push({ gridIndex: gi, type: 'value', min: 0, max: MDS_BOX.height, show: false });
  const P = {};
  MDS_SAMPLES.forEach((s) => { P[s[0]] = [s[1], s[2]]; });
  series.push({
    type: 'lines', coordinateSystem: 'cartesian2d', xAxisIndex: gi, yAxisIndex: gi, silent: true, z: 2,
    lineStyle: { color: '#3a3a3a', width: 1, type: 'solid', opacity: 1, curveness: 0 },
    data: MDS_NEAREST.map((e) => ({ coords: [P[e[0]], P[e[1]]], lineStyle: { width: e[2] ? 1.7 : 1 } })),
  });
  series.push({
    type: 'lines', coordinateSystem: 'cartesian2d', xAxisIndex: gi, yAxisIndex: gi, silent: true, z: 2,
    lineStyle: { color: '#4a4a4a', width: 0.9, type: [4, 3], opacity: 1, curveness: 0 },
    data: MDS_SECOND.map((e) => ({ coords: [P[e[0]], P[e[1]]] })),
  });
  Object.keys(GROUP_STYLE).forEach((g) => {
    const st = GROUP_STYLE[g];
    series.push({
      type: 'scatter', xAxisIndex: gi, yAxisIndex: gi, silent: true, z: 5,
      symbol: st.symbol, symbolSize: st.size,
      itemStyle: { color: st.fill, borderColor: st.stroke, borderWidth: 1, opacity: 1 },
      data: MDS_SAMPLES.filter((s) => s[3] === g).map((s) => {
        const pl = MDS_LABEL_PLACE[s[0]] || ['right', 0, 0];
        return {
          name: s[0], value: [s[1], s[2]],
          label: { show: true, position: pl[0], offset: [pl[1], pl[2]], distance: 3 },
        };
      }),
      label: { show: true, formatter: '{b}', fontSize: 14.5, color: st.label, fontFamily: FONT },
    });
  });
  graphic.push({
    type: 'text', x: MDS_BOX.left + MDS_BOX.width - 6, y: MDS_BOX.top + MDS_BOX.height - 10, z: 10,
    style: { text: 'MDS stress = ' + MDS_STRESS.toFixed(3), textAlign: 'right', textVerticalAlign: 'middle', font: '14.5px ' + FONT, fill: '#1e1e1e' },
  });
  MDS_LEGEND.forEach(([g, txt], j) => {
    const cy = 49 + 16.5 * j;
    if (g) graphic.push({ ...legendShape(g, 58, cy), z: 10 });
    graphic.push({
      type: 'text', x: 66, y: cy, z: 10,
      style: { text: txt, textAlign: 'left', textVerticalAlign: 'middle', font: '16px ' + FONT, fill: '#1e1e1e' },
    });
  });

  // ---------- figure title, panel letters, group labels ----------
  graphic.push({
    type: 'text', x: 48, y: 20, z: 10,
    style: { text: 'Linkage between upper Yangtze-Red rivers', textAlign: 'left', textVerticalAlign: 'middle', font: 'bold 20px ' + FONT, fill: '#333' },
  });
  PANEL_LETTERS.forEach(([t, x, y]) => {
    graphic.push({ type: 'rect', shape: { x, y, width: 24, height: 24 }, style: { fill: '#fff', stroke: '#111', lineWidth: 1.5 }, z: 11 });
    graphic.push({
      type: 'text', x: x + 12, y: y + 13, z: 12,
      style: { text: t, textAlign: 'center', textVerticalAlign: 'middle', font: 'bold 25px ' + FONT, fill: '#000' },
    });
  });
  GROUP_LABELS.forEach(([t, x, y]) => {
    graphic.push({
      type: 'text', x, y, rotation: Math.PI / 2, z: 10,
      style: { text: t, textAlign: 'center', textVerticalAlign: 'middle', font: 'bold 18px ' + FONT, fill: '#262626', lineHeight: 17 },
    });
  });

  return { animation: false, backgroundColor: '#ffffff', grid, xAxis, yAxis, series, graphic };
}

export default function App() {
  const ref = useRef(null);
  useEffect(() => {
    const chart = echarts.init(ref.current, null, { renderer: 'svg' });
    chart.setOption(buildOption());
    return () => chart.dispose();
  }, []);
  return (
    <div
      ref={ref}
      style={{ position: 'absolute', left: 0, top: 0, width: 1066, height: 1437, background: '#fff' }}
    />
  );
}
